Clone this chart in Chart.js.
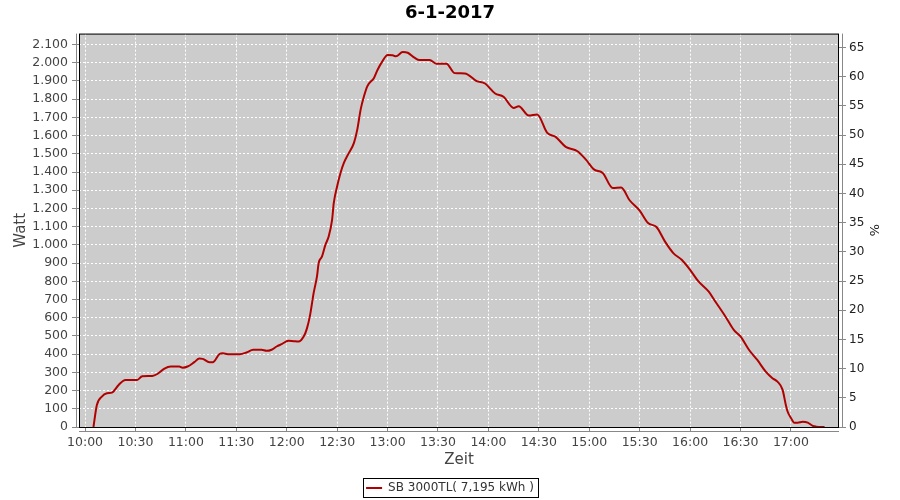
<!DOCTYPE html>
<html>
<head>
<meta charset="utf-8">
<script src="https://cdn.jsdelivr.net/npm/chart.js@4/dist/chart.umd.min.js"></script>
<style>
body { margin: 0; background: #fff; }
</style>
</head>
<body>
<canvas id="powerChart" width="900" height="500"></canvas>
<script>
var times = ["10:05","10:07","10:10","10:13","10:16","10:20","10:24","10:31","10:34","10:40",
    "10:43","10:47","10:51","10:56","10:58","11:01","11:05","11:08","11:10","11:14",
    "11:16","11:20","11:22","11:25","11:32","11:36","11:40","11:45","11:48","11:51",
    "11:54","11:57","12:01","12:04","12:07","12:10","12:12","12:14","12:16","12:18",
    "12:19","12:21","12:23","12:25","12:27","12:28","12:30","12:32","12:34","12:37",
    "12:40","12:42","12:44","12:46","12:48","12:52","12:54","12:57","13:00","13:03",
    "13:05","13:09","13:12","13:16","13:19","13:25","13:29","13:35","13:40","13:46",
    "13:53","13:58","14:04","14:09","14:15","14:18","14:24","14:29","14:35","14:40",
    "14:46","14:53","14:58","15:03","15:08","15:14","15:19","15:24","15:30","15:35",
    "15:40","15:45","15:50","15:55","16:00","16:05","16:11","16:15","16:21","16:26",
    "16:30","16:35","16:40","16:45","16:49","16:52","16:55","16:57","16:58","17:00",
    "17:02","17:04","17:07","17:10","17:13","17:15","17:20"];
var watt = [0,120,167,185,189,231,258,258,278,280,
    291,319,332,332,326,332,356,376,374,356,
    356,401,405,400,400,409,424,424,418,424,
    442,455,473,471,469,495,540,620,735,827,
    900,937,1000,1047,1139,1230,1322,1395,1450,1505,
    1560,1634,1744,1817,1872,1918,1960,2009,2042,2041,
    2035,2059,2055,2028,2015,2015,1995,1995,1943,1941,
    1899,1886,1831,1813,1752,1761,1710,1716,1615,1593,
    1538,1514,1468,1413,1395,1312,1315,1245,1188,1120,
    1098,1019,955,918,863,799,744,689,607,533,
    497,424,368,304,268,249,205,120,85,50,
    24,24,29,24,6,2,0];

var timeTicks = [0,30,60,90,120,150,180,210,240,270,300,330,360,390,420];
var wattTicks = [0,100,200,300,400,500,600,700,800,900,1000,1100,1200,1300,1400,1500,1600,1700,1800,1900,2000,2100];
var percentTicks = [0,5,10,15,20,25,30,35,40,45,50,55,60,65];

var fontFamily = "'DejaVu Sans', sans-serif";

function toMin(s){
    var p = s.split(':');
    return (parseInt(p[0]) - 10) * 60 + parseInt(p[1]);
}
function fmtTime(m){
    var h = 10 + Math.floor(m / 60);
    var mm = m % 60;
    return h + ':' + (mm < 10 ? '0' + mm : mm);
}
function fmtWatt(v){
    if (v >= 1000) {
        var r = String(v % 1000);
        while (r.length < 3) r = '0' + r;
        return Math.floor(v / 1000) + '.' + r;
    }
    return String(v);
}

var points = times.map(function(t, i){ return {x: toMin(t), y: watt[i]}; });

var plotFrame = {
    id: 'plotFrame',
    beforeDraw: function(chart){
        var a = chart.chartArea, c = chart.ctx;
        c.save();
        c.fillStyle = '#cccccc';
        c.fillRect(a.left, a.top, a.right - a.left, a.bottom - a.top);
        c.restore();
    },
    afterDraw: function(chart){
        var a = chart.chartArea, c = chart.ctx;
        c.save();
        c.strokeStyle = '#000';
        c.lineWidth = 1;
        c.strokeRect(a.left + 0.5, a.top + 0.5, a.right - a.left - 1, a.bottom - a.top);
        c.strokeStyle = '#888';
        c.beginPath();
        c.moveTo(a.left - 2.5, a.top); c.lineTo(a.left - 2.5, a.bottom + 1);
        c.moveTo(a.right + 3.5, a.top); c.lineTo(a.right + 3.5, a.bottom + 1);
        c.moveTo(a.left, a.bottom + 4.5); c.lineTo(a.right, a.bottom + 4.5);
        c.stroke();
        // box around legend
        var lg = chart.legend;
        if (lg && lg.legendHitBoxes && lg.legendHitBoxes.length) {
            var hb = lg.legendHitBoxes[0];
            c.strokeStyle = '#000';
            c.strokeRect(Math.round(hb.left) - 2.5, Math.round(hb.top) - 3.5, Math.round(hb.width) + 7, hb.height + 7);
        }
        c.restore();
    }
};

var ctx = document.getElementById("powerChart").getContext("2d");
new Chart(ctx, {
    type: 'line',
    data: {
        datasets: [{
            label: "SB 3000TL( 7,195 kWh )",
            data: points,
            borderColor: "#b00000",
            backgroundColor: "#b00000",
            borderWidth: 2,
            pointRadius: 0,
            fill: false,
            cubicInterpolationMode: 'monotone',
            yAxisID: 'y'
        }]
    },
    options: {
        responsive: false,
        animation: false,
        layout: {padding: 0},
        plugins: {
            title: {
                display: true,
                text: '6-1-2017',
                color: '#000',
                font: {family: fontFamily, size: 18, weight: 'bold'},
                padding: {top: 3, bottom: 9}
            },
            legend: {
                position: 'bottom',
                maxHeight: 22,
                labels: {
                    usePointStyle: true,
                    pointStyle: 'line',
                    pointStyleWidth: 16,
                    color: '#333',
                    padding: 4,
                    font: {family: fontFamily, size: 12}
                }
            },
            tooltip: {enabled: false}
        },
        scales: {
            x: {
                type: 'linear',
                position: 'bottom',
                min: -3.6,
                max: 448.6,
                afterBuildTicks: function(s){ s.ticks = timeTicks.map(function(v){ return {value: v}; }); },
                afterFit: function(s){ s.height = 51; },
                ticks: {
                    autoSkip: false, maxRotation: 0, padding: 3, color: '#444',
                    font: {family: fontFamily, size: 12.5},
                    callback: function(v){ return fmtTime(v); }
                },
                grid: {color: '#fff', lineWidth: 1, tickLength: 5, tickColor: '#888'},
                border: {display: false, dash: [2, 2]},
                title: {display: true, text: 'Zeit', color: '#444', font: {family: fontFamily, size: 15}, padding: {top: 0, bottom: 9}}
            },
            y: {
                position: 'left',
                min: 0,
                max: 2160,
                afterBuildTicks: function(s){ s.ticks = wattTicks.map(function(v){ return {value: v}; }); },
                afterFit: function(s){ s.width = 79; },
                ticks: {
                    padding: 4, color: '#444',
                    font: {family: fontFamily, size: 12.5},
                    callback: function(v){ return fmtWatt(v); }
                },
                grid: {color: '#fff', lineWidth: 1, tickLength: 7, tickColor: '#888'},
                border: {display: false, dash: [2, 2]},
                title: {display: true, text: 'Watt', color: '#444', font: {family: fontFamily, size: 15}, padding: {top: 12, bottom: 0}}
            },
            y1: {
                position: 'right',
                min: 0,
                max: 67.4,
                afterBuildTicks: function(s){ s.ticks = percentTicks.map(function(v){ return {value: v}; }); },
                afterFit: function(s){ s.width = 61; },
                ticks: {padding: 3, color: '#222', font: {family: fontFamily, size: 12}},
                grid: {drawOnChartArea: false, tickLength: 7, tickColor: '#888'},
                border: {display: false},
                title: {display: true, text: '%', color: '#222', font: {family: fontFamily, size: 13}, padding: {top: 19, bottom: 0}}
            }
        }
    },
    plugins: [plotFrame]
});
</script>
</body>
</html>
